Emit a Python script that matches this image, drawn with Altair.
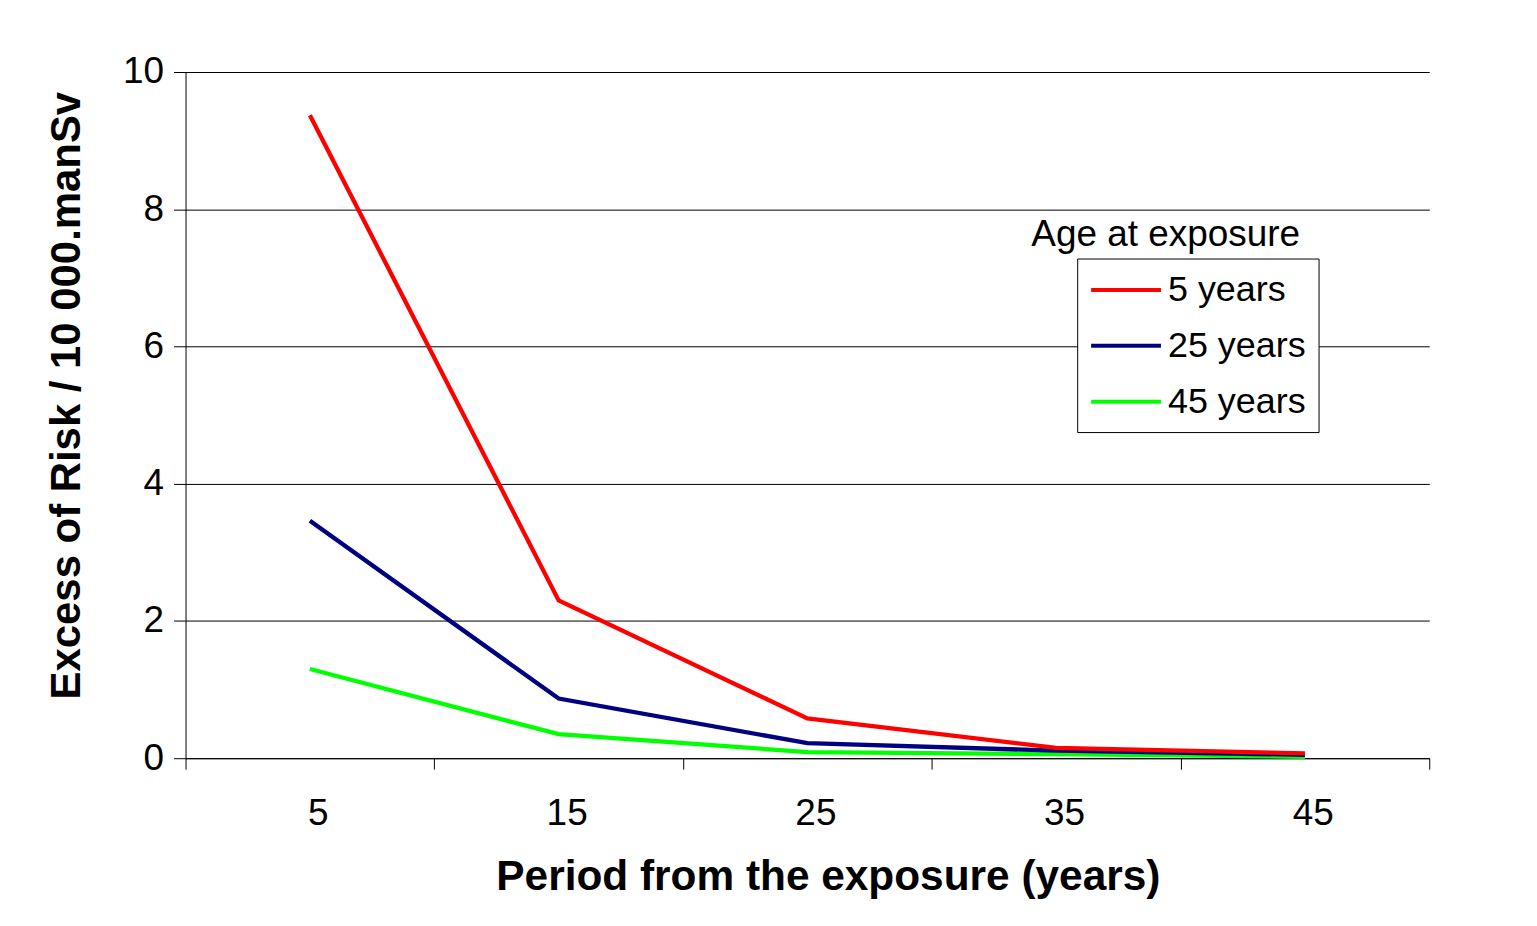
import altair as alt
import pandas as pd

# ---- data ----
periods = [5, 15, 25, 35, 45]
series_names = ["5 years", "25 years", "45 years"]
risk_age5 = [9.37, 2.30, 0.58, 0.15, 0.07]
risk_age25 = [3.46, 0.87, 0.22, 0.11, 0.05]
risk_age45 = [1.30, 0.35, 0.09, 0.06, 0.02]
series_colors = ["#FF0000", "#000080", "#00FF00"]
y_tick_values = [0, 2, 4, 6, 8, 10]
x_tick_values = [0, 5, 10, 15, 20, 25, 30, 35, 40, 45, 50]
legend_title = "Age at exposure"

FONT = "Liberation Sans"

rows = []
for name, vals in zip(series_names[::-1], [risk_age45, risk_age25, risk_age5]):
    for p, v in zip(periods, vals):
        rows.append({"period": p, "risk": v, "age": name})
df = pd.DataFrame(rows)

lines = alt.Chart(df).mark_line(strokeWidth=4.3).encode(
    x=alt.X(
        "period:Q",
        scale=alt.Scale(domain=[0, 50], nice=False, zero=False),
        axis=alt.Axis(
            values=x_tick_values,
            grid=False,
            labelExpr="datum.value % 10 == 5 ? datum.label : ''",
            tickOpacity={"condition": {"test": "datum.value % 10 == 0", "value": 1}, "value": 0},
            tickSize=11,
            labelPadding=26,
            labelOffset=8,
            labelFontSize=37,
            labelColor="black",
            labelFont=FONT,
            title="Period from the exposure (years)",
            titleFont=FONT,
            titleFontSize=42.5,
            titleFontWeight="bold",
            titleColor="black",
            titleX=644,
            titleY=98,
            titleBaseline="top",
            titleAlign="center",
            domainColor="black",
            tickColor="black",
        ),
    ),
    y=alt.Y(
        "risk:Q",
        scale=alt.Scale(domain=[0, 10], nice=False),
        axis=alt.Axis(
            values=y_tick_values,
            grid=True,
            gridColor="black",
            gridOpacity=1,
            gridWidth=1,
            tickSize=12,
            labelPadding=10,
            labelFontSize=37,
            labelColor="black",
            labelFont=FONT,
            title="Excess of Risk / 10 000.manSv",
            titleFont=FONT,
            titleFontSize=42,
            titleFontWeight="bold",
            titleColor="black",
            titlePadding=34,
            titleY=324,
            titleAlign="center",
            domainColor="black",
            tickColor="black",
        ),
    ),
    color=alt.Color(
        "age:N",
        scale=alt.Scale(domain=series_names, range=series_colors),
        legend=alt.Legend(
            orient="none",
            legendX=894,
            legendY=187,
            title=None,
            symbolType="M-1,0H3",
            symbolSize=1225,
            symbolStrokeWidth=4,
            labelFontSize=36,
            labelFont=FONT,
            labelColor="black",
            labelOffset=40,
            padding=12,
            rowPadding=18,
            strokeColor="black",
            fillColor="white",
        ),
    ),
)

title_text = alt.Chart(pd.DataFrame({"t": [legend_title]})).mark_text(
    align="left", baseline="alphabetic", fontSize=37, font=FONT, color="black"
).encode(x=alt.value(848), y=alt.value(174), text="t:N")

chart = alt.layer(lines, title_text).properties(
    width=1247,
    height=688,
    autosize=alt.AutoSizeParams(type="none"),
    padding={"left": 178, "top": 63, "right": 100, "bottom": 150},
    background="white",
).configure_view(stroke=None)

chart.save("out.html", embed_options={"renderer": "svg", "actions": False})
